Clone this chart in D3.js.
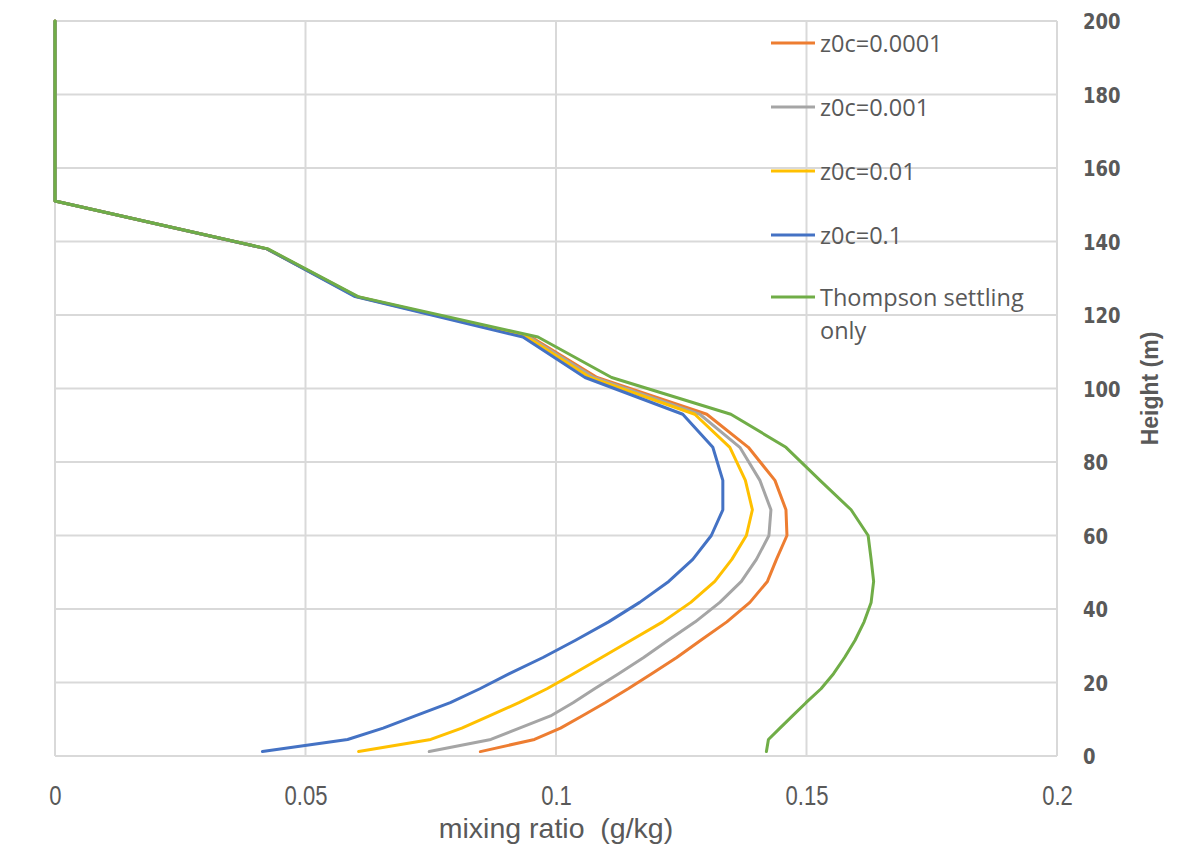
<!DOCTYPE html>
<html>
<head>
<meta charset="utf-8">
<script src="https://cdn.jsdelivr.net/npm/d3@7"></script>
<style>
  body { margin: 0; background: #ffffff; }
  svg { display: block; }
</style>
</head>
<body>
<svg id="chart" width="1198" height="847"></svg>
<script>
// Model level heights (m)
const heights = [1.2, 4.5, 7.6, 10.9, 14.5, 18.3, 22.4, 26.8, 31.5, 36.5, 41.8, 47.5, 53.5,
                 60, 67, 75, 84, 93, 103, 114, 125, 138, 151, 200];

// Mixing ratio profiles (g/kg) at each level
const z0c_0001 = [0.0849, 0.0957, 0.1009, 0.1052, 0.1098, 0.1144, 0.1191, 0.1241, 0.1289, 0.1341, 0.1387, 0.1422, 0.1440,
                  0.1461, 0.1459, 0.1437, 0.1384, 0.1301, 0.1082, 0.0950, 0.0603, 0.0423, 0, 0];
const z0c_001  = [0.0747, 0.0870, 0.0927, 0.0989, 0.1034, 0.1077, 0.1125, 0.1175, 0.1224, 0.1278, 0.1327, 0.1370, 0.1400,
                  0.1425, 0.1429, 0.1407, 0.1367, 0.1287, 0.1076, 0.0946, 0.0603, 0.0423, 0, 0];
const z0c_01   = [0.0606, 0.0750, 0.0812, 0.0867, 0.0926, 0.0982, 0.1035, 0.1091, 0.1150, 0.1213, 0.1269, 0.1317, 0.1351,
                  0.1380, 0.1392, 0.1378, 0.1347, 0.1277, 0.1068, 0.0942, 0.0601, 0.0423, 0, 0];
const z0c_1    = [0.0414, 0.0584, 0.0655, 0.0719, 0.0789, 0.0848, 0.0907, 0.0974, 0.1039, 0.1105, 0.1167, 0.1225, 0.1273,
                  0.1310, 0.1333, 0.1333, 0.1313, 0.1253, 0.1058, 0.0934, 0.0599, 0.0423, 0, 0];
const thompson = [0.1420, 0.1424, 0.1447, 0.1472, 0.1499, 0.1529, 0.1554, 0.1576, 0.1597, 0.1615, 0.1629, 0.1634, 0.1629,
                  0.1623, 0.1589, 0.1527, 0.1459, 0.1349, 0.1111, 0.0964, 0.0605, 0.0425, 0, 0];

const seriesNames  = ["z0c=0.0001", "z0c=0.001", "z0c=0.01", "z0c=0.1", "Thompson settling only"];
const seriesValues = [z0c_0001, z0c_001, z0c_01, z0c_1, thompson];
const seriesColors = ["#ED7D31", "#A5A5A5", "#FFC000", "#4472C4", "#70AD47"];

// Axis ticks
const xTicks = [0, 0.05, 0.1, 0.15, 0.2];
const xTickLabels = ["0", "0.05", "0.1", "0.15", "0.2"];
const yTicks = [0, 20, 40, 60, 80, 100, 120, 140, 160, 180, 200];
const xTitle = "mixing ratio  (g/kg)";
const yTitle = "Height (m)";

const svg = d3.select("#chart");
const x = d3.scaleLinear().domain([0, 0.2]).range([55, 1057]);
const y = d3.scaleLinear().domain([0, 200]).range([756, 21]);

const gridColor = "#d9d9d9";
const textColor = "#595959";
const sansFont = "'Liberation Sans', Arial, sans-serif";

// Gridlines
const grid = svg.append("g");
grid.selectAll("line.v").data(xTicks).join("line")
  .attr("class", "v")
  .attr("x1", d => x(d)).attr("x2", d => x(d))
  .attr("y1", y(0)).attr("y2", y(200))
  .attr("stroke", gridColor).attr("stroke-width", 2);
grid.selectAll("line.h").data(yTicks).join("line")
  .attr("class", "h")
  .attr("x1", x(0)).attr("x2", x(0.2))
  .attr("y1", d => y(d)).attr("y2", d => y(d))
  .attr("stroke", gridColor).attr("stroke-width", 2);

// Bottom axis labels (narrow, tall digits)
const xAxis = d3.axisBottom(x).tickValues(xTicks)
  .tickFormat((d, i) => xTickLabels[i]).tickSize(0);
const gx = svg.append("g").attr("transform", `translate(0,${y(0)})`).call(xAxis);
gx.select(".domain").remove();
gx.selectAll("text")
  .attr("fill", textColor)
  .attr("y", 49 / 1.15).attr("dy", 0)
  .attr("transform", "scale(0.92,1.15)")
  .style("font-family", sansFont)
  .style("font-size", "24px");

// Right axis labels
const yAxis = d3.axisRight(y).tickValues(yTicks).tickSize(0).tickPadding(26);
const gy = svg.append("g").attr("transform", `translate(${x(0.2)},0)`).call(yAxis);
gy.select(".domain").remove();
gy.selectAll("text")
  .attr("fill", textColor)
  .attr("dy", 0)
  .attr("dominant-baseline", "central")
  .attr("transform", "scale(1,1.22)")
  .style("font-family", "'DejaVu Sans', sans-serif")
  .style("font-weight", "bold")
  .style("font-size", "18px");

// Axis titles
svg.append("text")
  .attr("x", x(0.1)).attr("y", 838)
  .attr("text-anchor", "middle")
  .attr("fill", textColor)
  .style("font-family", sansFont).style("font-size", "28.5px")
  .style("white-space", "pre")
  .text(xTitle);

svg.append("text")
  .attr("transform", `translate(1150,${y(100)}) rotate(-90)`)
  .attr("text-anchor", "middle").attr("dominant-baseline", "central")
  .attr("fill", textColor)
  .style("font-family", sansFont).style("font-size", "23px").style("font-weight", "bold")
  .text(yTitle);

// Profiles
const line = d3.line()
  .x(d => x(d[0]))
  .y(d => y(d[1]));

svg.append("g").selectAll("path")
  .data(seriesValues)
  .join("path")
  .attr("d", vals => line(vals.map((v, i) => [v, heights[i]])))
  .attr("fill", "none")
  .attr("stroke", (d, i) => seriesColors[i])
  .attr("stroke-width", 3)
  .attr("stroke-linejoin", "round")
  .attr("stroke-linecap", "round");

// Legend
const legendY = [43, 107, 171, 235, 297];
const legend = svg.append("g");
seriesNames.forEach((name, i) => {
  const g = legend.append("g").attr("transform", `translate(0,${legendY[i]})`);
  g.append("line")
    .attr("x1", 771).attr("x2", 815).attr("y1", 0).attr("y2", 0)
    .attr("stroke", seriesColors[i]).attr("stroke-width", 3);
  const t = g.append("text")
    .attr("x", 820).attr("y", 0)
    .attr("dominant-baseline", "central")
    .attr("fill", textColor)
    .style("font-family", "'Open Sans', sans-serif")
    .style("font-size", "23.5px");
  if (name === "Thompson settling only") {
    t.append("tspan").attr("x", 820).attr("dy", 0).text("Thompson settling");
    t.append("tspan").attr("x", 820).attr("dy", 33).text("only");
  } else {
    t.text(name);
  }
});
</script>
</body>
</html>
